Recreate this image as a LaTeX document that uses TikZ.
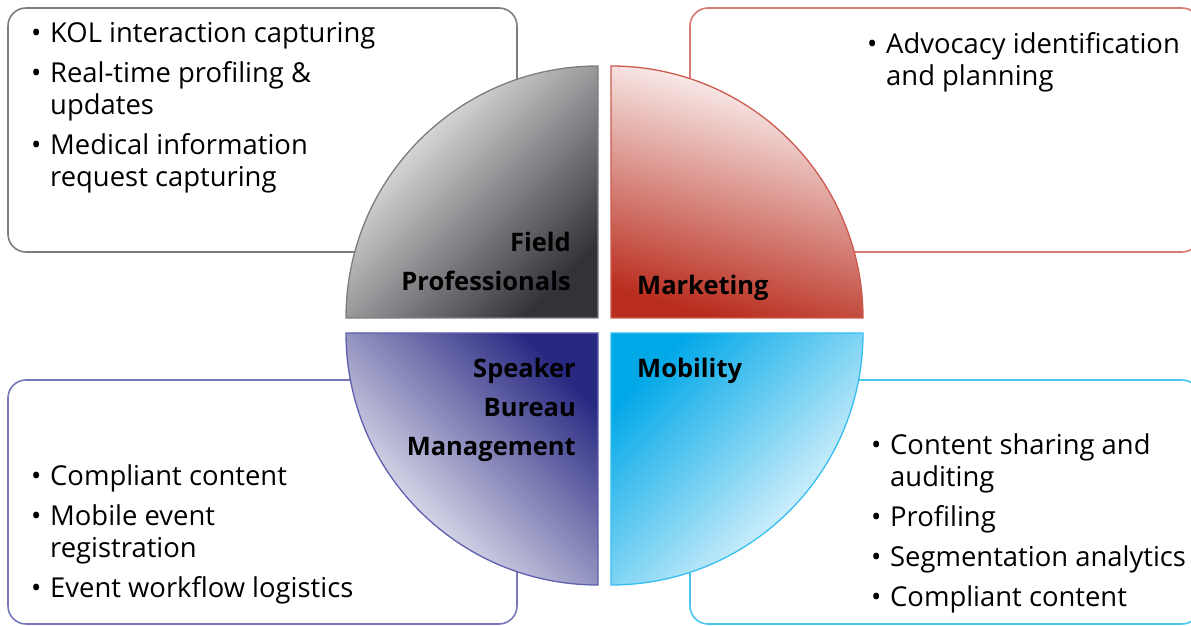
\documentclass[tikz,border=0pt]{standalone}
\usepackage{fontspec}
\setmainfont{Open Sans}
\definecolor{fieldline}{RGB}{125,125,128}
\definecolor{fielddark}{RGB}{50,50,56}
\definecolor{markline}{RGB}{205,90,78}
\definecolor{markdark}{RGB}{185,45,30}
\definecolor{speakline}{RGB}{95,95,175}
\definecolor{speakdark}{RGB}{40,40,130}
\definecolor{mobline}{RGB}{55,190,240}
\definecolor{mobdark}{RGB}{0,168,232}
\newcommand{\itm}{\makebox[19pt][l]{\textbullet}}
\newcommand{\cnt}{\hspace*{19pt}}

\begin{document}
\begin{tikzpicture}[x=1pt,y=1pt,
  list box/.style={draw,line width=1.6pt,rounded corners=18pt,fill=white,inner sep=0pt},
  quarter/.style={line width=1.3pt},
  item list/.style={anchor=base west,align=left,inner sep=0pt,font=\fontsize{27.4}{32}\selectfont},
  head label/.style={inner sep=0pt,font=\bfseries\fontsize{25.5}{39}\selectfont}]
  \useasboundingbox (0,0) rectangle (1191,626);

  % boxes behind the quarters
  \node[list box, draw=fieldline, minimum width=509, minimum height=244] (fieldbox) at (262.5,496) {};
  \node[list box, draw=markline!80, minimum width=510, minimum height=244] (markbox) at (945,496) {};
  \node[list box, draw=speakline!85, minimum width=509, minimum height=244] (speakbox) at (262.5,124) {};
  \node[list box, draw=mobline!90, minimum width=510, minimum height=244] (mobbox) at (945,124) {};

  % the four quarters
  \shadedraw[quarter, draw=fieldline, top color=white, middle color=fielddark!30!white, bottom color=fielddark, shading angle=45]
    (598,308) -- (346,308) arc[start angle=180, end angle=90, radius=252] -- cycle;
  \shadedraw[quarter, draw=markline, top color=white, middle color=markdark!40!white, bottom color=markdark, shading angle=-15]
    (611,308) -- (611,560) arc[start angle=90, end angle=0, radius=252] -- cycle;
  \shadedraw[quarter, draw=speakline, top color=speakdark, middle color=speakdark!30!white, bottom color=white, shading angle=-45]
    (598,293) -- (598,41) arc[start angle=270, end angle=180, radius=252] -- cycle;
  \shadedraw[quarter, draw=mobline, top color=mobdark, middle color=mobdark!45!white, bottom color=white, shading angle=45]
    (611,293) -- (863,293) arc[start angle=0, end angle=-90, radius=252] -- cycle;

  \node[head label, anchor=base east, align=right] (fieldlabel) at (571,335) {Field\\Professionals};
  \node[head label, anchor=base west] (marklabel) at (637,331) {Marketing};
  \node[head label, anchor=base east, align=right] (speaklabel) at (576,170) {Speaker\\Bureau\\Management};
  \node[head label, anchor=base west] (moblabel) at (637,248) {Mobility};

  \node[item list] (fieldlist) at (31,439) {\itm KOL interaction capturing\\[8pt]\itm Real-time profiling \&\\\cnt updates\\[8pt]\itm Medical information\\\cnt request capturing};
  \node[item list] (marklist) at (867,540) {\itm Advocacy identification\\\cnt and planning};
  \node[item list] (speaklist) at (31,28) {\itm Compliant content\\[8pt]\itm Mobile event\\\cnt registration\\[8pt]\itm Event workflow logistics};
  \node[item list] (moblist) at (871,19) {\itm Content sharing and\\\cnt auditing\\[8pt]\itm Profiling\\[8pt]\itm Segmentation analytics\\[8pt]\itm Compliant content};
\end{tikzpicture}
\end{document}
